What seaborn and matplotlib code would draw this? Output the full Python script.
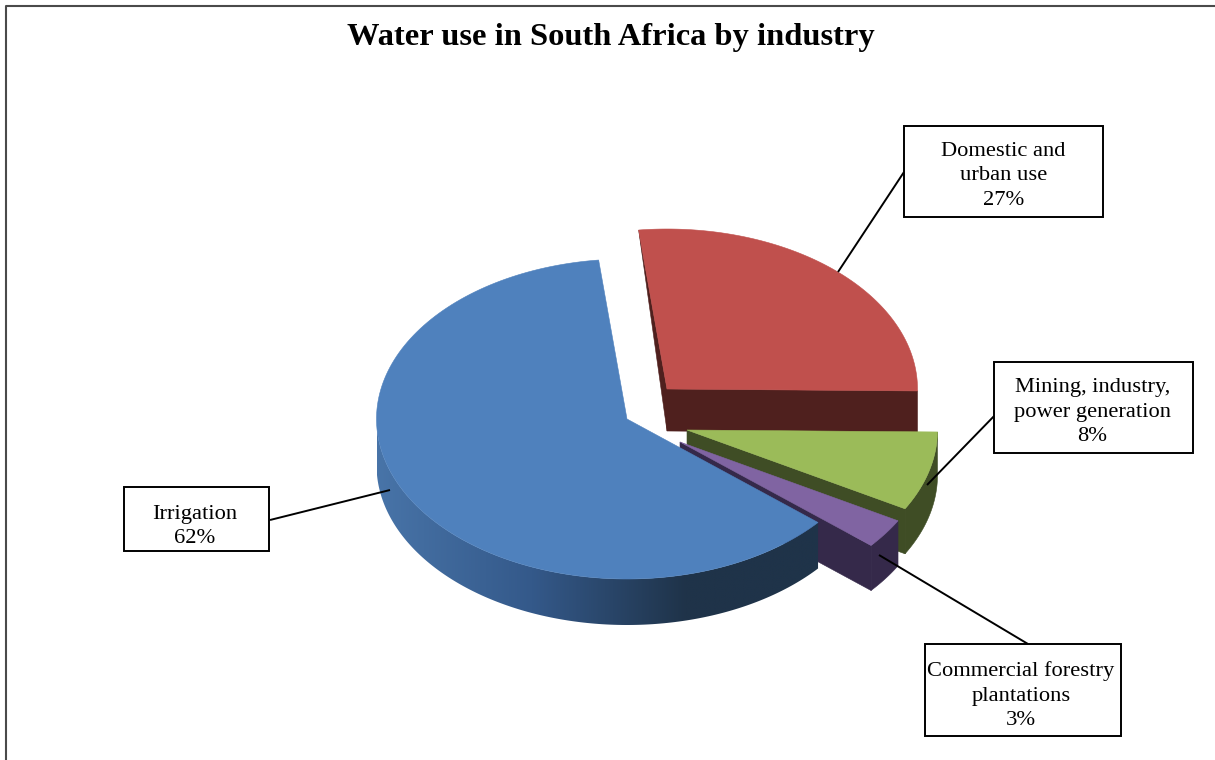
import numpy as np
import pandas as pd
import matplotlib
matplotlib.use("Agg")
import matplotlib.pyplot as plt
from matplotlib.colors import LinearSegmentedColormap
from matplotlib.patches import Polygon, Rectangle
import seaborn as sns

# ---- data ----
title = "Water use in South Africa by industry"
categories = ["Domestic and\nurban use", "Mining, industry,\npower generation",
              "Commercial forestry\nplantations", "Irrigation"]
values = [27, 8, 3, 62]
top_colors = ["#C0504D", "#9BBB59", "#8064A2", "#4F81BD"]
side_colors = ["#4F201E", "#3F4D25", "#35294A", "#1F3349"]

# ---- layout (pixels of the 1215x760 canvas) ----
START_DEG = -6.5
CENTERS = [(667, 389), (687, 430), (680, 442), (627, 419)]
DEPTHS = [42, 45, 45, 46]
RX, RY = 250.5, 160
BOXES = [(904, 126, 199, 91), (994, 362, 199, 91), (925, 644, 196, 92), (124, 487, 145, 64)]
TEXT_X = [1003.5, 1092.5, 1021, 195]
LAST_BASELINE = [205, 441, 725, 543]
LINE_STEP = 24.5
LEADERS = [((838, 272), (904, 172)), ((927, 485), (998, 412)),
           ((879, 555), (1028, 644)), ((390, 490), (270, 520))]

sns.set_theme(style="white")
plt.rcParams["font.family"] = ["Liberation Serif", "DejaVu Serif"]
top_pal = sns.color_palette(top_colors)
side_pal = sns.color_palette(side_colors)
df = pd.DataFrame({"category": categories, "value": values})
df["sweep"] = df["value"] / df["value"].sum() * 360
df["a0"] = START_DEG + df["sweep"].cumsum().shift(fill_value=0)
df["a1"] = df["a0"] + df["sweep"]

fig = plt.figure(figsize=(12.15, 7.6), dpi=100, facecolor="white")
ax = fig.add_axes([0, 0, 1, 1])
ax.set_xlim(0, 1215)
ax.set_ylim(760, 0)
ax.axis("off")


def pt(c, deg, dy=0.0):
    r = np.radians(deg)
    return np.column_stack([c[0] + RX * np.sin(r), c[1] - RY * np.cos(r) + dy])


def arc(c, a0, a1, dy=0.0, n=160):
    return pt(c, np.linspace(a0, a1, n), dy)


def add(xy, color, z):
    p = Polygon(xy, closed=True, facecolor=color, edgecolor=color, lw=0.4, zorder=z)
    ax.add_patch(p)
    return p


# frame: left and top only, running off the canvas
ax.plot([5.5, 5.5, 1215], [760, 5.5, 5.5], color="#4A4A4A", lw=1.5, zorder=0)

for i, row in df.iterrows():
    c = CENTERS[i]
    d = DEPTHS[i]
    a0, a1 = row["a0"], row["a1"]
    z = 2 + i
    base = np.array(c, float)
    if row["category"] == "Irrigation":
        # outer wall, shaded left to right and clipped to the wall's outline
        wall = np.vstack([arc(c, a0, 270), arc(c, 270, a0, d)])
        shade = LinearSegmentedColormap.from_list("shade", ["#4874A8", "#34598A", side_colors[i], side_colors[i]],
                                                  N=256)
        outline = Polygon(wall, closed=True, facecolor="none", edgecolor="none", zorder=z)
        ax.add_patch(outline)
        im = ax.imshow(np.linspace(0, 1, 512)[None, :], cmap=shade, aspect="auto",
                       extent=[c[0] - RX, 840, c[1] + 240, c[1]], zorder=z, interpolation="bilinear")
        im.set_clip_path(outline)
        ax.set_xlim(0, 1215)
        ax.set_ylim(760, 0)
    else:
        # front cut wall
        p = pt(c, a1)[0]
        add([base, p, p + [0, d], base + [0, d]], side_pal[i], z)
        # outer wall
        if i > 0:
            add(np.vstack([arc(c, a0, a1), arc(c, a1, a0, d)]), side_pal[i], z)
        # thin visible back wall of the largest exploded slice
        if i == 0:
            add([pt(c, a0)[0], base, base + [0, d]], side_pal[i], z)
    # top face
    add(np.vstack([base, arc(c, a0, a1)]), top_pal[i], z + 0.5)

for (p0, p1) in LEADERS:
    ax.plot([p0[0], p1[0]], [p0[1], p1[1]], color="black", lw=1.4, zorder=20, solid_capstyle="butt")

for (x, y, w, h), tx, last, name, v in zip(BOXES, TEXT_X, LAST_BASELINE, df["category"], df["value"]):
    ax.add_patch(Rectangle((x, y), w, h, facecolor="white", edgecolor="black", lw=1.4, zorder=21))
    lines = f"{name}\n{v}%".split("\n")
    for k, line in enumerate(lines):
        ax.text(tx, last - (len(lines) - 1 - k) * LINE_STEP, line, ha="center", va="baseline",
                fontsize=16.2, color="black", zorder=22)

ax.text(611, 45, title, ha="center", va="baseline", fontsize=23.4, fontweight="bold", color="black", zorder=22)

sns.despine(ax=ax, left=True, bottom=True)
fig.savefig("out.png", dpi=100, facecolor="white")
